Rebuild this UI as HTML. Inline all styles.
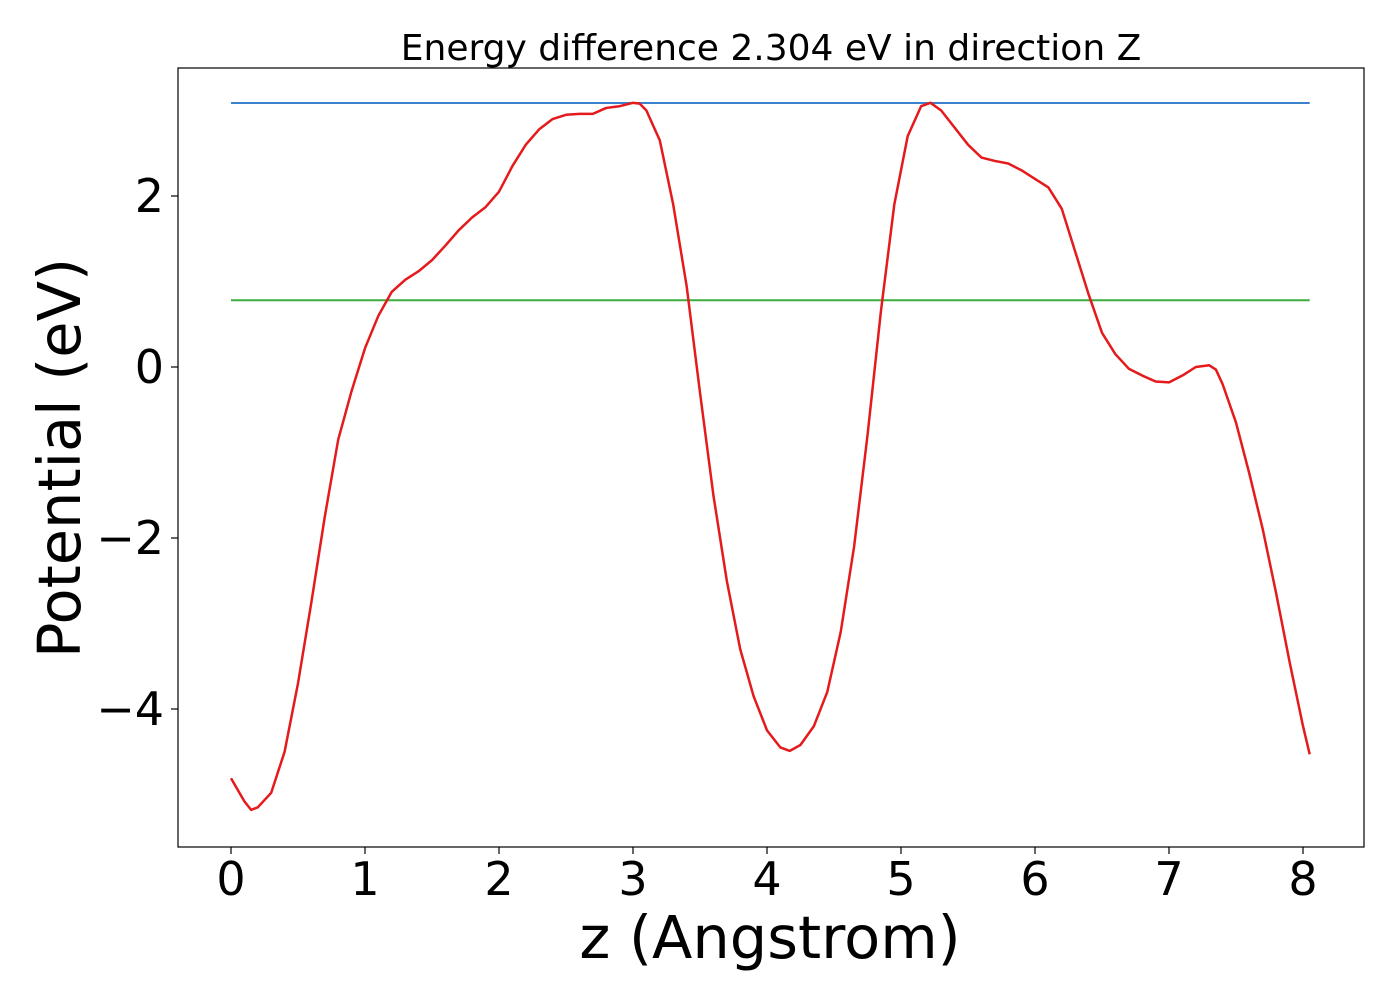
<!DOCTYPE html>
<html><head><meta charset="utf-8"><style>
body{margin:0;background:#fff}
svg{font-family:"DejaVu Sans","Liberation Sans",sans-serif}
</style></head><body>
<svg id="chart" width="1400" height="1000">
<rect x="178" y="68" width="1186" height="779" fill="none" stroke="#000" stroke-width="1.2"/>
<text x="771" y="60" text-anchor="middle" font-size="36">Energy difference 2.304 eV in direction Z</text>
<g id="xticks"></g>
<g id="yticks"></g>
<g id="series"></g>
<text x="770" y="958" text-anchor="middle" font-size="59">z (Angstrom)</text>
<text transform="translate(80,458) rotate(-90)" text-anchor="middle" font-size="59">Potential (eV)</text>
</svg>
<script>
const xTicks=[0,1,2,3,4,5,6,7,8];
const yTicks=[2,0,-2,-4];
const yTickLabels=["2","0","\u22122","\u22124"];
const zVals=[0,0.1,0.15,0.2,0.3,0.4,0.5,0.6,0.7,0.8,0.9,1.0,1.1,1.2,1.3,1.4,1.5,1.6,1.7,1.8,1.9,2.0,2.1,2.2,2.3,2.4,2.5,2.6,2.7,2.8,2.9,3.0,3.05,3.1,3.2,3.3,3.4,3.5,3.6,3.7,3.8,3.9,4.0,4.1,4.17,4.25,4.35,4.45,4.55,4.65,4.75,4.85,4.95,5.05,5.15,5.22,5.3,5.4,5.5,5.6,5.7,5.8,5.9,6.0,6.1,6.2,6.3,6.4,6.5,6.6,6.7,6.8,6.9,7.0,7.1,7.2,7.3,7.35,7.4,7.5,7.6,7.7,7.8,7.9,8.0,8.05];
const potVals=[-4.81,-5.08,-5.18,-5.15,-4.98,-4.5,-3.7,-2.75,-1.75,-0.85,-0.28,0.22,0.6,0.88,1.02,1.12,1.25,1.42,1.6,1.75,1.87,2.05,2.35,2.6,2.78,2.9,2.95,2.96,2.96,3.03,3.05,3.09,3.08,3.0,2.65,1.9,0.95,-0.3,-1.5,-2.5,-3.3,-3.85,-4.25,-4.45,-4.49,-4.42,-4.2,-3.8,-3.1,-2.1,-0.8,0.65,1.9,2.7,3.05,3.09,3.0,2.8,2.6,2.45,2.41,2.38,2.3,2.2,2.1,1.85,1.35,0.85,0.4,0.15,-0.02,-0.1,-0.17,-0.18,-0.1,0.0,0.02,-0.03,-0.2,-0.65,-1.25,-1.9,-2.65,-3.45,-4.2,-4.53];
const hLines=[3.088,0.78];
const hColors=["#3a82cc","#3cad3c"];
const xS=v=>231+v*134, yS=v=>367-v*85.5;
const NS="http://www.w3.org/2000/svg";
function mk(t,a,p){const e=document.createElementNS(NS,t);for(const k in a)e.setAttribute(k,a[k]);p.appendChild(e);return e;}
const gx=document.getElementById('xticks'),gy=document.getElementById('yticks'),gs=document.getElementById('series');
xTicks.forEach(v=>{
 const l=mk('line',{x1:xS(v),x2:xS(v),y1:847,y2:854,stroke:'#000','stroke-width':1.2},gx);
 
 
 const t=mk('text',{x:xS(v),y:895,'text-anchor':'middle','font-size':46},gx);t.textContent=v;
 
 
});
yTicks.forEach((v,i)=>{
 const l=mk('line',{x1:171,x2:178,y1:yS(v),y2:yS(v),stroke:'#000','stroke-width':1.2},gy);
 
 
 const t=mk('text',{x:164,y:yS(v)+16,'text-anchor':'end','font-size':46},gy);t.textContent=yTickLabels[i];
 
 
});
hLines.forEach((v,i)=>{
 const l=mk('line',{x1:xS(0),x2:xS(8.05),y1:yS(v),y2:yS(v),stroke:hColors[i],'stroke-width':2},gs);
 
 
});
const p=mk('polyline',{points:zVals.map((z,i)=>xS(z)+','+yS(potVals[i])).join(' '),fill:'none',stroke:'#e41a1c','stroke-width':2.5,'stroke-linejoin':'round'},gs);


</script>
</body></html>
